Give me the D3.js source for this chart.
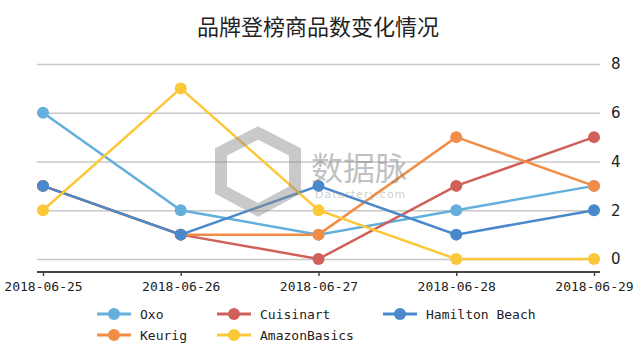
<!DOCTYPE html>
<html>
<head>
<meta charset="utf-8">
<script src="https://cdn.jsdelivr.net/npm/d3@7"></script>
<style>
  body { margin: 0; background: #fff; }
  svg { display: block; }
</style>
</head>
<body>
<div id="chart"></div>
<script>
// data
const dates = ["2018-06-25", "2018-06-26", "2018-06-27", "2018-06-28", "2018-06-29"];
const oxo = [6, 2, 1, 2, 3];
const cuisinart = [3, 1, 0, 3, 5];
const hamiltonBeach = [3, 1, 3, 1, 2];
const keurig = [3, 1, 1, 5, 3];
const amazonBasics = [2, 7, 2, 0, 0];
const yTicks = [0, 2, 4, 6, 8];

const series = [
    { name: "Oxo", values: oxo, color: "#64afdc" },
    { name: "Cuisinart", values: cuisinart, color: "#d0605a" },
    { name: "Hamilton Beach", values: hamiltonBeach, color: "#4a88cc" },
    { name: "Keurig", values: keurig, color: "#f28d48" },
    { name: "AmazonBasics", values: amazonBasics, color: "#fcc738" },
];
// drawing order (Hamilton Beach covers Keurig/Cuisinart where they overlap)
const drawOrder = ["Oxo", "Cuisinart", "Keurig", "Hamilton Beach", "AmazonBasics"];

const width = 640, height = 352;
const svg = d3.select("#chart").append("svg")
    .attr("width", width)
    .attr("height", height);

const x = d3.scalePoint()
    .domain(dates)
    .range([43, 594]);

const y = d3.scaleLinear()
    .domain([0, 8])
    .range([259, 64]);

// title
svg.append("text")
    .attr("x", 318)
    .attr("y", 35)
    .attr("text-anchor", "middle")
    .style("font-family", "'Noto Sans CJK SC', sans-serif")
    .style("font-size", "22px")
    .style("fill", "#222")
    .text("品牌登榜商品数变化情况");

// grid
svg.append("g")
    .selectAll("line")
    .data(yTicks)
    .join("line")
    .attr("x1", 37)
    .attr("x2", 600)
    .attr("y1", d => y(d) + 0.5)
    .attr("y2", d => y(d) + 0.5)
    .attr("stroke", "#c8c8c8")
    .attr("stroke-width", 1.3);

// y labels on the right
svg.append("g")
    .selectAll("text")
    .data(yTicks)
    .join("text")
    .attr("x", 611)
    .attr("y", d => y(d))
    .attr("dy", "0.36em")
    .style("font-family", "'DejaVu Sans', sans-serif")
    .style("font-size", "15px")
    .style("fill", "#222")
    .text(d => d);

// x axis
const xAxis = svg.append("g")
    .attr("transform", "translate(0,272)")
    .call(d3.axisBottom(x).tickSize(4).tickPadding(6));
xAxis.select(".domain")
    .attr("d", "M37,0H600")
    .attr("stroke", "#444")
    .attr("stroke-width", 2);
xAxis.selectAll(".tick line").attr("stroke", "#444").attr("stroke-width", 1.5);
xAxis.selectAll(".tick text")
    .style("font-family", "'DejaVu Sans Mono', monospace")
    .style("font-size", "13px")
    .style("fill", "#222");

// lines
const line = d3.line()
    .x((d, i) => x(dates[i]))
    .y(d => y(d));

const ordered = drawOrder.map(n => series.find(s => s.name === n));

const groups = svg.append("g")
    .selectAll("g")
    .data(ordered)
    .join("g");

groups.append("path")
    .attr("d", d => line(d.values))
    .attr("fill", "none")
    .attr("stroke", d => d.color)
    .attr("stroke-width", 2.5);

groups.selectAll("circle")
    .data(d => d.values.map((v, i) => ({ v, i, color: d.color })))
    .join("circle")
    .attr("cx", d => x(dates[d.i]))
    .attr("cy", d => y(d.v))
    .attr("r", 6)
    .attr("fill", d => d.color);

// watermark
const wm = svg.append("g").attr("opacity", 0.45);
wm.append("path")
    .attr("d", "M258,133 L295,152 L295,190 L258,210 L221,190 L221,152 Z")
    .attr("fill", "none")
    .attr("stroke", "#888")
    .attr("stroke-width", 12);
wm.append("text")
    .attr("x", 311)
    .attr("y", 180)
    .style("font-family", "'Noto Sans CJK SC', sans-serif")
    .style("font-size", "32px")
    .style("fill", "#777")
    .text("数据脉");
wm.append("text")
    .attr("x", 315)
    .attr("y", 198)
    .style("font-family", "'DejaVu Sans', sans-serif")
    .style("font-size", "11px")
    .style("letter-spacing", "1px")
    .style("fill", "#999")
    .text("Datartery.com");

// legend
const legendPos = [
    [97, 314], [217, 314], [383, 314],
    [97, 335], [217, 335],
];
const legend = svg.append("g")
    .selectAll("g")
    .data(series)
    .join("g")
    .attr("transform", (d, i) => `translate(${legendPos[i][0]},${legendPos[i][1]})`);

legend.append("line")
    .attr("x1", 0).attr("x2", 34)
    .attr("stroke", d => d.color)
    .attr("stroke-width", 3);
legend.append("circle")
    .attr("cx", 17)
    .attr("r", 6)
    .attr("fill", d => d.color);
legend.append("text")
    .attr("x", 43)
    .attr("dy", "0.35em")
    .style("font-family", "'DejaVu Sans Mono', monospace")
    .style("font-size", "13px")
    .style("fill", "#222")
    .text(d => d.name);
</script>
</body>
</html>
